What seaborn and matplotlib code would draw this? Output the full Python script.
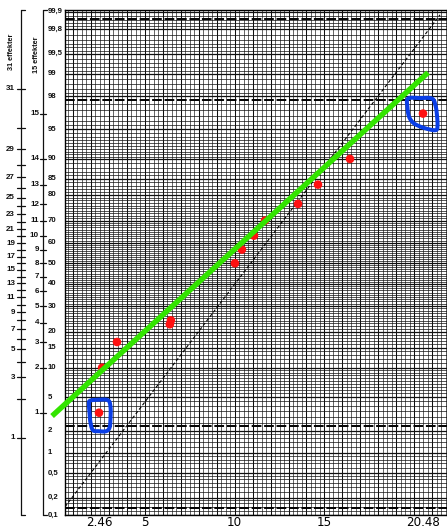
import numpy as np
import matplotlib
matplotlib.use("Agg")
import matplotlib.pyplot as plt
import matplotlib.transforms as mtransforms
from matplotlib.path import Path
from matplotlib.lines import Line2D
from matplotlib.ticker import NullLocator
import seaborn as sns
from statistics import NormalDist

# ---- data -------------------------------------------------------------
# ordered effects and their cumulative probability (%)
effect_x = [2.46, 2.63, 3.46, 6.40, 6.46, 10.02, 10.41, 11.08, 11.69, 13.53, 14.64, 16.42, 20.48]
effect_p = [3.33, 10.0, 16.7, 22.7, 24.2, 50.0, 56.7, 63.3, 70.0, 76.7, 83.3, 90.0, 96.7]

# fitted straight line through the bulk of the effects
fit_x = [-0.15, 20.76]
fit_p = [3.04, 99.04]

# printed reference diagonal of the paper
ref_x = [0.57, 21.43]
ref_p = [0.14, 99.886]

# effects singled out as deviating
circled_x = [2.46, 20.48]
circled_p = [3.33, 96.7]

x_ticks = [2.46, 5, 10, 15, 20.48]
x_tick_labels = ["2.46", "5", "10", "15", "20.48"]

prob_ticks = [99.9, 99.8, 99.5, 99, 98, 95, 90, 85, 80, 70, 60, 50, 40,
              30, 20, 15, 10, 5, 2, 1, 0.5, 0.2, 0.1]
prob_labels = ["99,9", "99,8", "99,5", "99", "98", "95", "90", "85", "80", "70",
               "60", "50", "40", "30", "20", "15", "10", "5", "2", "1",
               "0,5", "0,2", "0,1"]

n_small = 15   # "15 effekter" scale
n_large = 31   # "31 effekter" scale

# ---- normal probability scale ----------------------------------------
_nd = NormalDist()
_ppf = np.vectorize(_nd.inv_cdf, otypes=[float])
_cdf = np.vectorize(_nd.cdf, otypes=[float])


def prob_to_z(p):
    p = np.clip(np.asarray(p, dtype=float) / 100.0, 1e-12, 1 - 1e-12)
    return _ppf(p)


def z_to_prob(z):
    return _cdf(np.asarray(z, dtype=float)) * 100.0


sns.set_style("white")
plt.rcParams["font.family"] = ["DejaVu Sans"]

W, H = 447, 529
TOP, BOT = 10, 515
fig = plt.figure(figsize=(W / 100, H / 100), dpi=100)
ax = fig.add_axes([65 / W, (H - BOT) / H, (W - 65) / W, (BOT - TOP) / H])
ax.set_yscale("function", functions=(prob_to_z, z_to_prob))

INK = "#101010"

# ---- paper grid -------------------------------------------------------
for xv in np.arange(0.5, 22.01, 0.25):
    major = abs(xv - round(xv)) < 1e-9
    ax.axvline(xv, color=INK, lw=0.75 if major else 0.45, zorder=0)

low = np.concatenate([
    np.arange(0.1, 0.2, 0.02), np.arange(0.2, 0.5, 0.05), np.arange(0.5, 1.0, 0.1),
    np.arange(1.0, 2.0, 0.2), np.arange(2.0, 5.0, 0.5), np.arange(5.0, 10.0, 0.5),
    np.arange(10.0, 50.0, 1.0)])
grid_p = np.concatenate([low, [50.0], 100.0 - low])
for pv in grid_p:
    ax.axhline(pv, color=INK, lw=0.5, zorder=0)
for pv in prob_ticks:
    ax.axhline(pv, color=INK, lw=0.9, zorder=0)

# sigma bands of the paper (+-2 and +-3 standard deviations)
for zv in (-3, -2, 2, 3):
    ax.axhline(float(z_to_prob(zv)), color="black", lw=1.4,
               dashes=(5, 1.4), zorder=1)

# ---- marks ------------------------------------------------------------
sns.lineplot(x=ref_x, y=ref_p, ax=ax, color="black", lw=0.8,
             linestyle=(0, (3, 2)), zorder=2)

sns.scatterplot(x=effect_x, y=effect_p, ax=ax, color="#ff1010", s=38,
                edgecolor="none", zorder=3)

sns.lineplot(x=fit_x, y=fit_p, ax=ax, color="#33e400", lw=3.9,
             solid_capstyle="butt", zorder=4, clip_on=False)


def ring(points, n=10):
    """Closed smooth outline (Catmull-Rom) around a point, pixel offsets."""
    P = np.asarray(points, float)
    m = len(P)
    out = []
    for i in range(m):
        p0, p1, p2, p3 = P[i - 1], P[i], P[(i + 1) % m], P[(i + 2) % m]
        for t in np.linspace(0, 1, n, endpoint=False):
            t2, t3 = t * t, t * t * t
            out.append(0.5 * (2 * p1 + (-p0 + p2) * t
                              + (2 * p0 - 5 * p1 + 4 * p2 - p3) * t2
                              + (-p0 + 3 * p1 - 3 * p2 + p3) * t3))
    out.append(out[0])
    v = np.array(out)
    v[:, 1] *= -1
    codes = [Path.MOVETO] + [Path.LINETO] * (len(v) - 2) + [Path.CLOSEPOLY]
    size_pt = 2 * np.max(np.abs(v)) * 72 / 100
    return Path(v, codes), size_pt ** 2


ring_low, s_low = ring([(-9, -12), (0, -13), (9, -12.5), (11.5, -6), (11.5, 6),
                        (10.5, 15), (7, 18.5), (0, 18.5), (-6, 17.5),
                        (-8.5, 10), (-9.5, 0), (-10, -8)])
ring_high, s_high = ring([(-15, -15), (-3, -15.5), (9, -15), (12.5, -8), (14, 2),
                          (14.5, 12), (13, 16.5), (5, 15.5), (-4, 12.5),
                          (-10, 9), (-14, 3), (-15.5, -6)])

BLUE = "#0a3ee6"
for i, (mk, ss) in enumerate([(ring_low, s_low), (ring_high, s_high)]):
    sns.scatterplot(x=[circled_x[i]], y=[circled_p[i]], ax=ax, marker=mk, s=ss,
                    color=BLUE, facecolor="none", edgecolor=BLUE,
                    linewidth=2.9, zorder=5, clip_on=False)

# ---- axes -------------------------------------------------------------
ax.set_xlim(0.569, 21.815)
ax.set_ylim(float(z_to_prob(-3.09)), float(z_to_prob(3.11)))
ax.set_xticks(x_ticks, x_tick_labels)
ax.tick_params(axis="x", length=0, pad=0.6, labelsize=8.6, colors="black")
ax.set_yticks([])
ax.yaxis.set_minor_locator(NullLocator())
ax.set_xlabel("")
ax.set_ylabel("")
for sp in ax.spines.values():
    sp.set_color("black")
    sp.set_linewidth(1.0)

# ---- left-hand scales -------------------------------------------------
blend = mtransforms.blended_transform_factory(fig.transFigure, ax.transData)
LAB = dict(family=["Liberation Sans", "DejaVu Sans"], fontweight="bold",
           color=INK)

for pv, lab in zip(prob_ticks, prob_labels):
    fig.text(48 / W, pv, lab, transform=blend, ha="left", va="center",
             fontsize=5.6, **LAB)


def vline_px(xpx, y0, y1):
    fig.add_artist(Line2D([xpx / W, xpx / W], [1 - y0 / H, 1 - y1 / H],
                          transform=fig.transFigure, color=INK, lw=0.9))


def hline_px(x0, x1, ypx):
    fig.add_artist(Line2D([x0 / W, x1 / W], [1 - ypx / H, 1 - ypx / H],
                          transform=fig.transFigure, color=INK, lw=0.9))


# 15-effect scale
vline_px(43, TOP, BOT)
hline_px(43, 47, TOP)
hline_px(43, 47, BOT)
for i in range(1, n_small + 1):
    pv = (i - 0.5) / n_small * 100
    fig.add_artist(Line2D([40 / W, 46 / W], [pv, pv], transform=blend,
                          color=INK, lw=0.9))
    fig.text(39 / W, pv, str(i), transform=blend, ha="right", va="center",
             fontsize=5.8, **LAB)

# 31-effect scale
vline_px(21, TOP, BOT)
hline_px(21, 25, TOP)
hline_px(21, 25, BOT)
for i in range(1, n_large + 1):
    pv = (i - 0.5) / n_large * 100
    fig.add_artist(Line2D([17 / W, 25 / W], [pv, pv], transform=blend,
                          color=INK, lw=0.9))
    if i % 2 == 1:
        fig.text(15 / W, pv, str(i), transform=blend, ha="right", va="center",
                 fontsize=5.8, **LAB)

fig.text(12 / W, 1 - 52 / H, "31 effekter", rotation=90, ha="center",
         va="center", fontsize=5.2, **LAB)
fig.text(37 / W, 1 - 55 / H, "15 effekter", rotation=90, ha="center",
         va="center", fontsize=5.2, **LAB)

fig.savefig("out.png", dpi=100)
